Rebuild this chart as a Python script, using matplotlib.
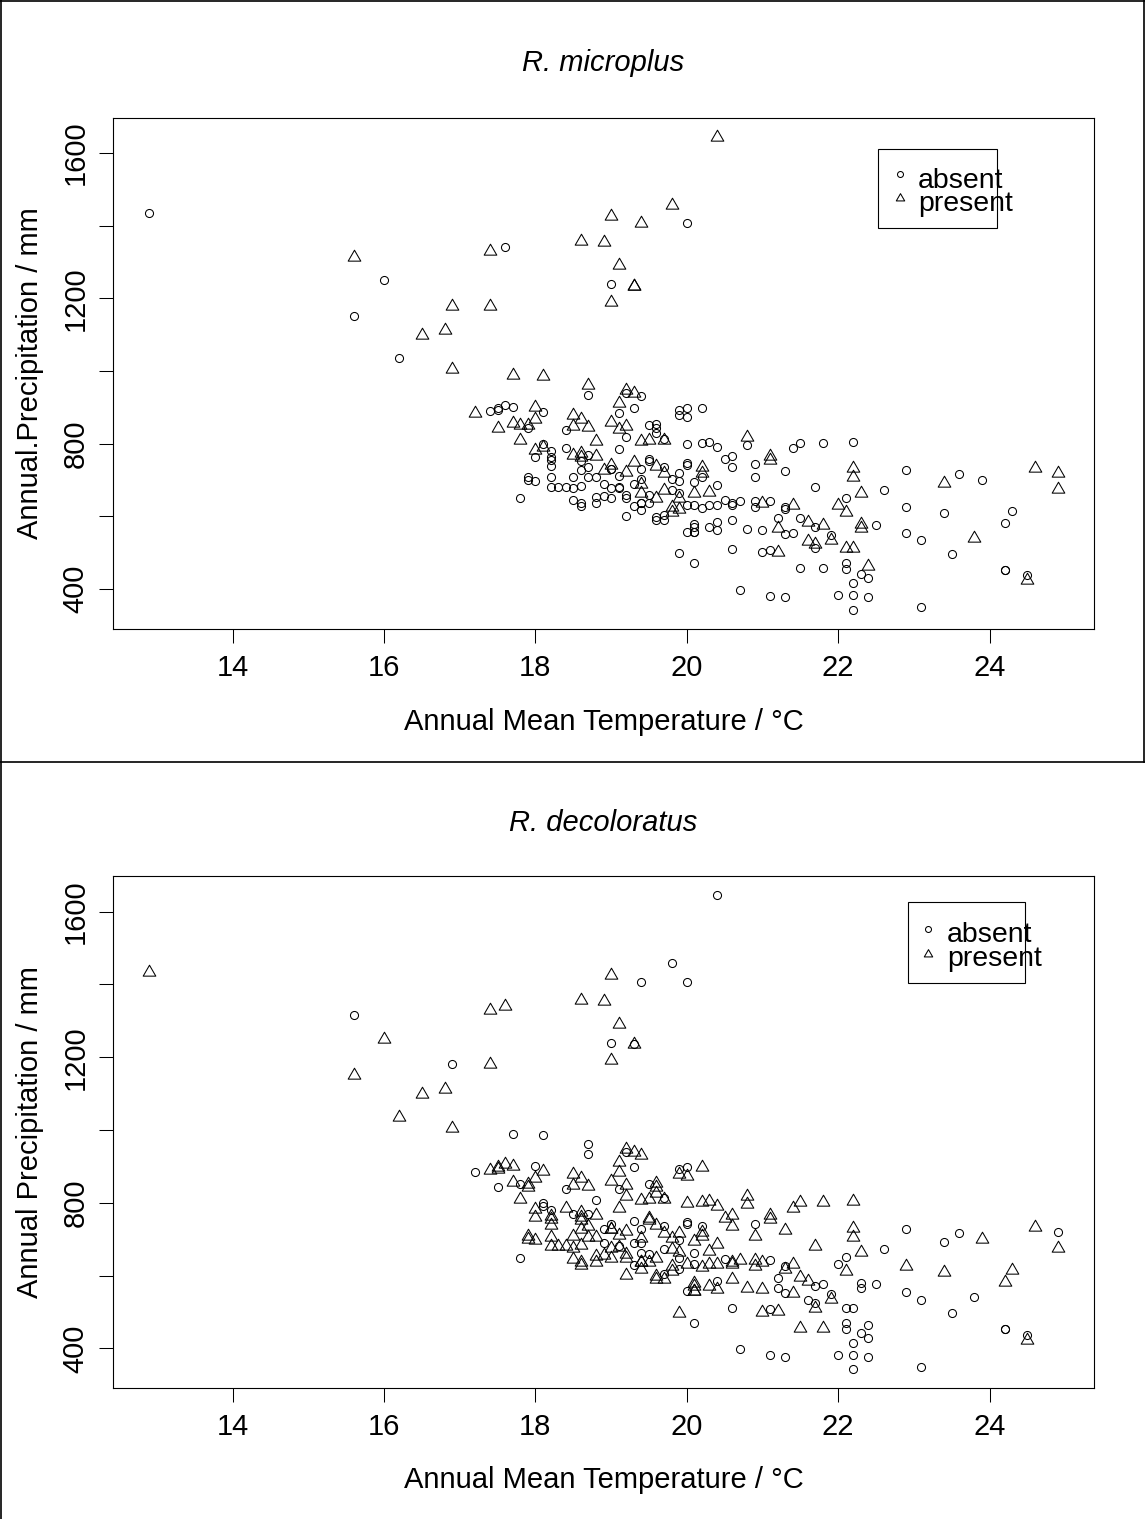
import numpy as np
import matplotlib
matplotlib.use("Agg")
from matplotlib import pyplot as plt
from matplotlib.lines import Line2D
from matplotlib.patches import Rectangle
from matplotlib.path import Path

plt.rcParams['font.family'] = ['Liberation Sans', 'DejaVu Sans']

# sites: temperature (°C), precipitation (mm), presence of each tick (1 = present)
# left / upper sparse sites
left_temp = [12.9, 15.6, 16.0, 15.6, 16.5, 16.2, 20.4, 19.8, 19.0, 19.4,
             20.0, 17.4, 17.6, 18.6, 18.9, 19.1, 19.0, 19.3, 19.3, 19.0,
             16.9, 17.4, 16.8, 16.9, 17.7, 18.1]
left_precip = [1434, 1315, 1250, 1151, 1100, 1035, 1645, 1458, 1426, 1407,
               1407, 1331, 1342, 1357, 1355, 1292, 1240, 1235, 1235, 1191,
               1180, 1180, 1113, 1005, 990, 985]
left_micro = [0, 1, 0, 0, 1, 0, 1, 1, 1, 1,
              0, 1, 0, 1, 1, 1, 0, 1, 1, 1,
              1, 1, 1, 1, 1, 1]
left_deco = [1, 0, 1, 1, 1, 1, 0, 0, 1, 0,
             0, 1, 1, 1, 1, 1, 0, 1, 0, 1,
             0, 1, 1, 1, 0, 0]

# warm sites on the right
right_temp = [22.9, 23.4, 23.6, 23.9, 24.6, 24.9, 24.9, 22.9, 23.4, 24.3,
              24.2, 22.9, 23.1, 23.8, 23.5, 24.2, 24.2, 24.5, 24.5, 23.1]
right_precip = [728, 692, 717, 701, 733, 720, 676, 625, 609, 614,
                581, 554, 534, 541, 496, 453, 453, 437, 424, 350]
right_micro = [0, 1, 0, 0, 1, 1, 1, 0, 0, 0,
               0, 0, 0, 1, 0, 0, 0, 0, 1, 0]
right_deco = [0, 0, 0, 1, 1, 0, 1, 1, 1, 1,
              1, 0, 0, 0, 0, 0, 0, 0, 1, 0]

# dense cluster, 17-18.6 °C
c1_temp = [17.2, 17.4, 17.5, 17.5, 17.6, 17.7, 18.0, 18.1, 17.5, 17.7,
           17.8, 17.9, 17.9, 18.0, 17.8, 18.5, 18.6, 18.4, 18.5, 18.1,
           18.0, 18.0, 18.1, 18.2, 18.2, 18.2, 18.2, 18.4, 18.5,
           18.6, 18.5, 17.9, 17.9, 18.0, 18.2, 18.2, 18.3, 18.4, 18.5,
           18.6, 18.5, 18.6, 18.6, 17.8]
c1_precip = [885, 890, 898, 892, 906, 900, 900, 887, 844, 858,
             851, 851, 844, 867, 811, 878, 869, 837, 848, 800,
             782, 762, 790, 779, 764, 755, 739, 787, 768,
             727, 709, 709, 700, 698, 707, 680, 681, 680, 677,
             683, 646, 637, 628, 649]
c1_micro = [1, 0, 0, 0, 0, 0, 1, 0, 1, 1,
            1, 1, 0, 1, 1, 1, 1, 0, 1, 0,
            1, 0, 1, 0, 0, 0, 0, 0, 1,
            0, 0, 0, 0, 0, 0, 0, 0, 0, 0,
            0, 0, 0, 0, 0]
c1_deco = [0, 1, 1, 1, 1, 1, 0, 1, 0, 1,
           0, 1, 1, 1, 1, 1, 1, 0, 1, 0,
           1, 1, 0, 0, 1, 1, 1, 1, 0,
           1, 1, 1, 1, 1, 1, 1, 1, 1, 1,
           1, 1, 1, 1, 0]

# dense cluster, 18.6-20.7 °C
c2_temp = [18.7, 18.7, 19.2, 19.2, 19.3, 19.4, 19.1, 19.1, 19.3, 19.9,
           20.0, 19.9, 20.0, 20.2, 18.7, 19.0, 19.1, 19.2, 19.2, 19.5,
           19.6, 19.6, 19.6, 19.4, 19.5, 19.7, 19.7, 18.8, 19.1, 20.0,
           20.2, 20.3, 20.4, 20.5, 20.6, 20.6, 18.6, 18.6, 18.7, 18.8,
           18.6, 19.0, 19.0, 19.0, 19.5, 19.5, 19.3, 19.6, 19.7, 19.7,
           19.4, 20.0, 20.0, 20.2, 20.2, 20.2, 20.1, 19.8, 19.9, 19.9,
           18.7, 18.7, 18.8, 18.9, 19.0, 19.1, 18.9, 19.2, 19.1, 19.4,
           19.4, 19.3, 19.4, 19.4, 19.4, 19.4, 19.3, 19.2, 19.5, 19.6,
           19.5, 19.7, 19.8, 19.9, 19.9, 20.1, 20.3, 20.4, 19.8, 19.8,
           19.9, 20.1, 20.2, 20.3, 20.4, 20.5, 20.6, 20.7, 20.6, 18.8,
           18.8, 18.9, 19.0, 19.1, 19.2, 19.2, 19.6, 19.6, 19.7,
           19.7, 20.0, 20.0, 20.1, 20.1, 20.1, 20.1, 20.3, 20.4, 20.4,
           20.6, 19.9, 20.1, 20.6, 20.7]
c2_precip = [961, 933, 947, 940, 940, 931, 911, 885, 897, 894,
             899, 878, 874, 899, 846, 860, 839, 848, 819, 851,
             854, 842, 828, 808, 810, 810, 814, 808, 785, 799,
             802, 805, 791, 759, 766, 736, 775, 762, 768, 766,
             753, 741, 729, 729, 759, 753, 750, 738, 735, 718,
             729, 747, 741, 736, 720, 709, 695, 704, 718, 698,
             736, 707, 707, 690, 677, 681, 727, 723, 711, 704,
             690, 690, 663, 636, 636, 617, 628, 658, 658, 649,
             636, 672, 672, 665, 649, 663, 667, 686, 626, 612,
             619, 631, 624, 631, 631, 645, 637, 642, 631, 654,
             637, 656, 649, 679, 649, 601, 599, 590, 603,
             591, 631, 558, 580, 571, 558, 558, 571, 585, 562,
             590, 498, 470, 510, 397]
c2_micro = [1, 0, 1, 0, 1, 0, 1, 0, 0, 0,
            0, 0, 0, 0, 1, 1, 1, 1, 0, 0,
            0, 0, 0, 1, 1, 1, 0, 1, 0, 0,
            0, 0, 0, 0, 0, 0, 1, 1, 0, 1,
            0, 1, 0, 0, 0, 0, 1, 1, 0, 1,
            0, 0, 0, 1, 1, 0, 0, 0, 0, 0,
            0, 0, 0, 0, 0, 0, 1, 1, 0, 0,
            1, 0, 1, 0, 0, 0, 0, 0, 0, 1,
            0, 1, 0, 0, 1, 1, 1, 0, 1, 1,
            1, 0, 0, 0, 0, 0, 0, 0, 0, 0,
            0, 0, 0, 0, 0, 0, 0, 0, 0,
            0, 0, 0, 0, 0, 0, 0, 0, 0, 0,
            0, 0, 0, 0, 0]
c2_deco = [0, 0, 1, 0, 1, 1, 1, 1, 0, 0,
           0, 1, 1, 1, 1, 1, 0, 1, 1, 0,
           1, 1, 1, 1, 1, 1, 0, 0, 1, 1,
           1, 1, 1, 1, 1, 1, 1, 1, 0, 1,
           1, 0, 1, 1, 1, 1, 0, 1, 0, 1,
           0, 0, 0, 0, 1, 1, 1, 1, 1, 0,
           1, 1, 1, 0, 1, 0, 0, 1, 1, 1,
           0, 0, 0, 1, 1, 1, 0, 1, 0, 1,
           1, 0, 1, 1, 0, 0, 1, 1, 1, 1,
           0, 0, 1, 1, 1, 0, 1, 1, 1, 1,
           1, 1, 1, 1, 1, 1, 1, 1, 0,
           1, 1, 0, 1, 1, 1, 1, 1, 0, 1,
           1, 1, 0, 0, 0]

# dense cluster, 20.8-22.6 °C
c3_temp = [20.8, 20.8, 21.4, 21.5, 21.8, 22.2, 21.1, 21.1, 20.9, 20.9,
           21.3, 21.7, 22.2, 22.2, 22.3, 22.6, 22.1, 22.0, 22.1, 20.9,
           20.9, 21.0, 21.1, 21.3, 21.3, 21.4, 21.2, 21.5, 21.6, 21.7,
           21.8, 20.8, 21.0, 21.2, 21.3, 21.4, 22.3, 22.3, 22.5, 21.6,
           21.7, 21.7, 21.9, 21.9, 22.1, 22.2, 21.0, 21.1, 21.2, 21.5,
           21.8, 22.1, 22.1, 22.3, 22.4, 22.4, 22.2, 21.1, 21.3, 22.0,
           22.2, 22.4, 22.2]
c3_precip = [818, 796, 787, 802, 802, 805, 766, 755, 743, 709,
             725, 681, 732, 707, 665, 672, 651, 631, 612, 643,
             626, 637, 642, 626, 619, 631, 594, 596, 585, 571,
             576, 565, 562, 567, 551, 553, 579, 567, 576, 533,
             525, 512, 548, 535, 512, 512, 501, 507, 502, 457,
             457, 470, 454, 441, 429, 463, 415, 381, 377, 383,
             383, 377, 342]
c3_micro = [1, 0, 0, 0, 0, 0, 1, 1, 0, 0,
            0, 0, 1, 1, 1, 0, 0, 1, 1, 0,
            0, 1, 0, 0, 0, 1, 0, 0, 1, 0,
            1, 0, 0, 1, 0, 0, 1, 1, 0, 1,
            1, 0, 0, 1, 1, 1, 0, 0, 1, 0,
            0, 0, 0, 0, 0, 1, 0, 0, 0, 0,
            0, 0, 0]
c3_deco = [1, 1, 1, 1, 1, 1, 1, 1, 0, 1,
           1, 1, 1, 1, 1, 0, 0, 0, 1, 1,
           1, 1, 0, 0, 1, 1, 0, 1, 1, 0,
           0, 1, 1, 0, 0, 1, 0, 0, 0, 0,
           0, 1, 0, 1, 0, 0, 1, 0, 1, 1,
           1, 0, 0, 0, 0, 0, 0, 0, 0, 0,
           0, 0, 0]

temp = np.array(left_temp + right_temp + c1_temp + c2_temp + c3_temp)
precip = np.array(left_precip + right_precip + c1_precip + c2_precip + c3_precip)
micro = np.array(left_micro + right_micro + c1_micro + c2_micro + c3_micro)
deco = np.array(left_deco + right_deco + c1_deco + c2_deco + c3_deco)

x_ticks = [14, 16, 18, 20, 22, 24]
y_ticks = [400, 600, 800, 1000, 1200, 1400, 1600]
y_labels = ["400", "", "800", "", "1200", "", "1600"]
legend_labels = ["absent", "present"]

W, H = 1145, 1519
fig = plt.figure(figsize=(W / 100, H / 100), dpi=100)


def fx(px):
    return px / W


def fy(py):
    return 1 - py / H


# R's pch = 2, centred on the point
tri = Path([(0, 1), (-0.866, -0.5), (0.866, -0.5), (0, 1)],
           [Path.MOVETO, Path.LINETO, Path.LINETO, Path.CLOSEPOLY])

panels = [
    dict(top=117.5, bottom=628.5, flag=micro, title="R. microplus",
         ylab="Annual.Precipitation / mm", title_y=63, xlab_y=722,
         box=(878, 149, 997, 228), mark_x=900, mark_y=(174, 198),
         text_x=918, base_y=(188, 211)),
    dict(top=876, bottom=1388, flag=deco, title="R. decoloratus",
         ylab="Annual Precipitation / mm", title_y=823, xlab_y=1480,
         box=(908, 902, 1025, 983), mark_x=928, mark_y=(929, 954),
         text_x=947, base_y=(942, 966)),
]

fs = 21
for p in panels:
    ax = fig.add_axes([fx(113), fy(p["bottom"]), fx(1094) - fx(113),
                       (p["bottom"] - p["top"]) / H])
    flag = p["flag"]
    ax.plot(temp[flag == 0], precip[flag == 0], linestyle="none", marker="o",
            ms=5.8, mfc="none", mec="black", mew=0.75)
    ax.plot(temp[flag == 1], precip[flag == 1], linestyle="none", marker=tri,
            ms=10.5, mfc="none", mec="black", mew=0.75)
    ax.set_xlim(12.42, 25.38)
    ax.set_ylim(291, 1698)
    ax.set_xticks(x_ticks)
    ax.set_xticklabels([str(t) for t in x_ticks])
    ax.set_yticks(y_ticks)
    ax.set_yticklabels(y_labels)
    ax.tick_params(axis="both", direction="out", length=10, width=0.75,
                   labelsize=fs)
    ax.tick_params(axis="x", pad=8)
    ax.tick_params(axis="y", pad=7, labelrotation=90)
    for lab in ax.get_yticklabels():
        lab.set_va("center")
    for s in ax.spines.values():
        s.set_linewidth(0.8)

    cx = (113 + 1094) / 2
    fig.text(fx(cx), fy(p["title_y"]), p["title"], fontsize=fs,
             style="italic", ha="center", va="center")
    fig.text(fx(cx), fy(p["xlab_y"]), "Annual Mean Temperature / °C",
             fontsize=fs, ha="center", va="center")
    fig.text(fx(30), fy((p["top"] + p["bottom"]) / 2), p["ylab"],
             fontsize=fs, rotation=90, ha="center", va="center")

    # legend drawn as in R: box, symbols and text
    x0, y0, x1, y1 = p["box"]
    fig.add_artist(Rectangle((fx(x0), fy(y1)), fx(x1) - fx(x0),
                             (y1 - y0) / H, transform=fig.transFigure,
                             fill=False, ec="black", lw=0.8))
    fig.add_artist(Line2D([fx(p["mark_x"])], [fy(p["mark_y"][0])],
                          transform=fig.transFigure, marker="o", ms=4.3,
                          mfc="none", mec="black", mew=0.75))
    fig.add_artist(Line2D([fx(p["mark_x"])], [fy(p["mark_y"][1])],
                          transform=fig.transFigure, marker=tri, ms=7,
                          mfc="none", mec="black", mew=0.75))
    for lab, by in zip(legend_labels, p["base_y"]):
        fig.text(fx(p["text_x"]), fy(by), lab, fontsize=20.5,
                 ha="left", va="baseline")

# outer frame lines
frame = dict(transform=fig.transFigure, color="black", lw=1.2)
fig.add_artist(Line2D([fx(1), fx(1)], [0, 1], **frame))
fig.add_artist(Line2D([0, 1], [fy(1), fy(1)], **frame))
fig.add_artist(Line2D([0, 1], [fy(762), fy(762)], **frame))
fig.add_artist(Line2D([fx(1144), fx(1144)], [fy(762), 1], **frame))

fig.savefig("out.png", dpi=100)
